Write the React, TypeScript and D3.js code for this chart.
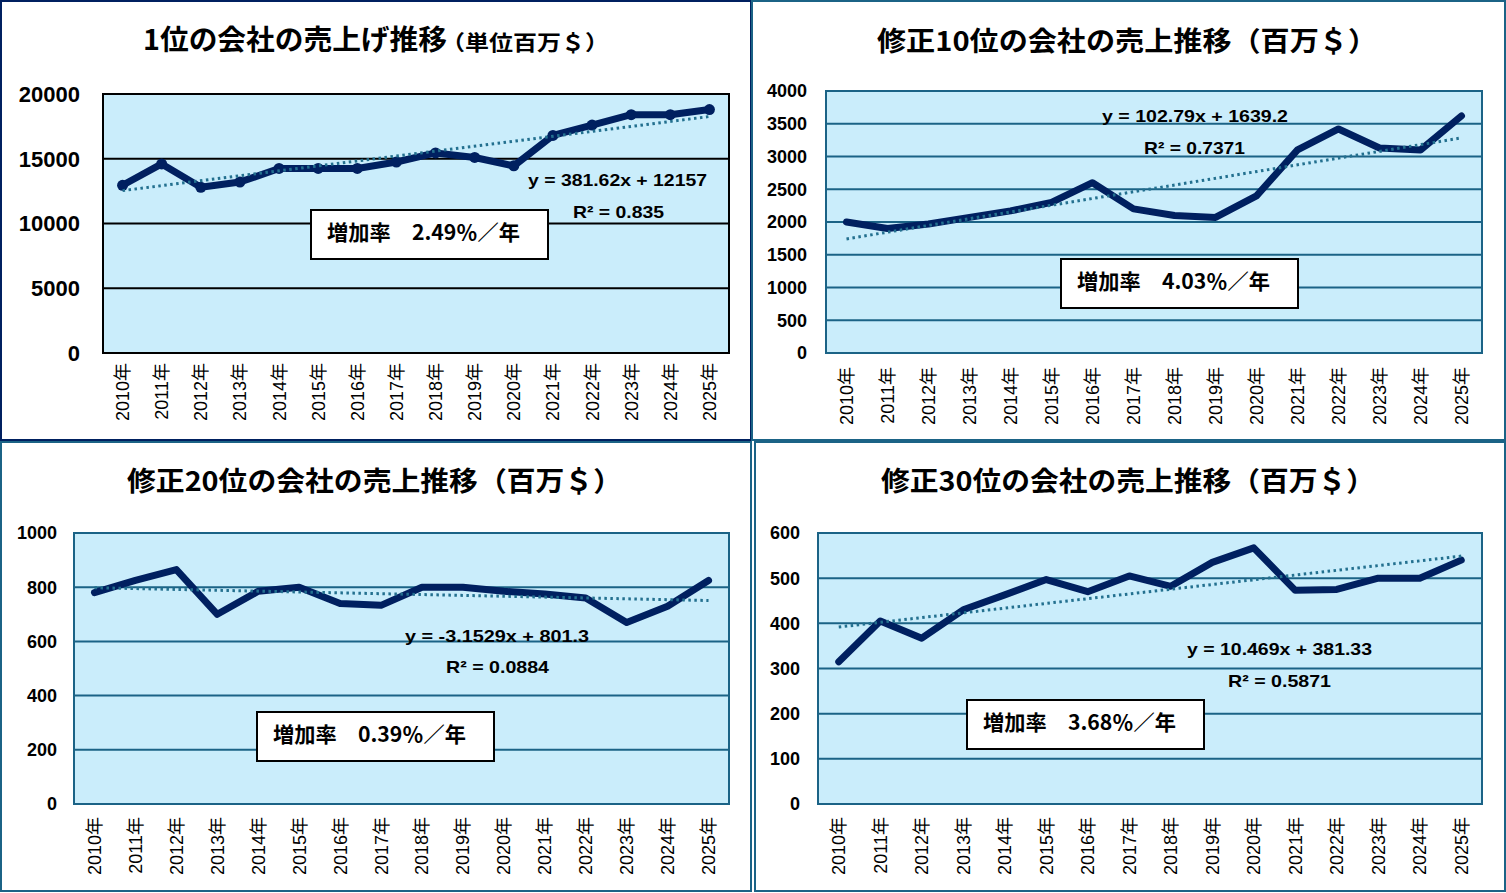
import { useEffect, useRef } from "react";
import * as d3 from "d3";

// ---- data ----
const years = [
  "2010年", "2011年", "2012年", "2013年", "2014年", "2015年", "2016年", "2017年",
  "2018年", "2019年", "2020年", "2021年", "2022年", "2023年", "2024年", "2025年",
];

const rank1Sales = [12950, 14600, 12800, 13200, 14250, 14250, 14250, 14750, 15450, 15100, 14450, 16800, 17600, 18400, 18400, 18800];
const rank10Sales = [2000, 1900, 1970, 2070, 2170, 2300, 2600, 2200, 2100, 2070, 2400, 3100, 3420, 3130, 3100, 3620];
const rank20Sales = [780, 825, 865, 700, 785, 800, 740, 733, 800, 800, 785, 775, 760, 670, 730, 825];
const rank30Sales = [315, 405, 367, 430, 463, 497, 470, 505, 482, 535, 567, 473, 475, 500, 500, 540];

const rank1Ticks = [0, 5000, 10000, 15000, 20000];
const rank10Ticks = [0, 500, 1000, 1500, 2000, 2500, 3000, 3500, 4000];
const rank20Ticks = [0, 200, 400, 600, 800, 1000];
const rank30Ticks = [0, 100, 200, 300, 400, 500, 600];

// linear trend: [slope, intercept], x = 1..16
const rank1Trend = [381.62, 12157];
const rank10Trend = [102.79, 1639.2];
const rank20Trend = [-3.1529, 801.3];
const rank30Trend = [10.469, 381.33];

const titles = [
  "1位の会社の売上げ推移",
  "修正10位の会社の売上推移（百万＄）",
  "修正20位の会社の売上推移（百万＄）",
  "修正30位の会社の売上推移（百万＄）",
];
const rank1Unit = "（単位百万＄）";
const equations = [
  "y = 381.62x + 12157",
  "y = 102.79x + 1639.2",
  "y = -3.1529x + 801.3",
  "y = 10.469x + 381.33",
];
const rSquared = ["R² = 0.835", "R² = 0.7371", "R² = 0.0884", "R² = 0.5871"];
const growthRates = [
  "増加率　2.49％／年",
  "増加率　4.03％／年",
  "増加率　0.39％／年",
  "増加率　3.68％／年",
];

const NUM_FONT = "'Liberation Sans', Arial, 'Noto Sans CJK JP', sans-serif";
const JP_FONT = "'Noto Sans CJK JP', 'Noto Sans', sans-serif";
const NAVY = "#002060";
const TEAL = "#1b6386";
const PLOT_FILL = "#caedfb";
const TREND = "#23708f";

interface PanelProps {
  values: number[];
  ticks: number[];
  trend: number[];
  title: string;
  unit?: string;
  equation: string;
  r2: string;
  rate: string;
  frame: number[]; // x0, y0, x1, y1
  frameColor: string;
  plot: number[]; // left, top, right, bottom
  gridColor: string;
  yFont: number;
  yGap: number;
  xGap: number;
  markers: boolean;
  titlePos: number[]; // x, baseline, size, length
  unitPos?: number[];
  eqPos: number[]; // x, baseline, length
  r2Pos: number[];
  boxPos: number[]; // x, y
}

function Panel(p: PanelProps) {
  const ref = useRef<SVGGElement>(null);

  useEffect(() => {
    if (!ref.current) return;
    const g = d3.select(ref.current);
    g.selectAll("*").remove();

    const [left, top, right, bottom] = p.plot;
    const x = d3.scaleBand<string>().domain(years).range([left, right]);
    const y = d3.scaleLinear().domain([0, d3.max(p.ticks)!]).range([bottom, top]);
    const cx = (i: number) => x(years[i])! + x.bandwidth() / 2;

    // panel frame
    const [fx0, fy0, fx1, fy1] = p.frame;
    g.append("rect")
      .attr("x", fx0).attr("y", fy0)
      .attr("width", fx1 - fx0).attr("height", fy1 - fy0)
      .attr("fill", "#fff")
      .attr("stroke", p.frameColor)
      .attr("stroke-width", 2);

    // plot area
    g.append("rect")
      .attr("x", left).attr("y", top)
      .attr("width", right - left).attr("height", bottom - top)
      .attr("fill", PLOT_FILL);

    g.selectAll(".grid")
      .data(p.ticks)
      .enter()
      .append("line")
      .attr("x1", left).attr("x2", right)
      .attr("y1", (d) => y(d)).attr("y2", (d) => y(d))
      .attr("stroke", p.gridColor)
      .attr("stroke-width", 2);

    g.append("rect")
      .attr("x", left).attr("y", top)
      .attr("width", right - left).attr("height", bottom - top)
      .attr("fill", "none")
      .attr("stroke", p.gridColor)
      .attr("stroke-width", 2);

    // y tick labels
    g.selectAll(".ylab")
      .data(p.ticks)
      .enter()
      .append("text")
      .attr("x", left - p.yGap)
      .attr("y", (d) => y(d))
      .attr("dy", "0.36em")
      .attr("text-anchor", "end")
      .attr("font-family", NUM_FONT)
      .attr("font-weight", "700")
      .attr("font-size", p.yFont)
      .attr("fill", "#000")
      .text((d) => String(d));

    // x tick labels (rotated)
    g.selectAll(".xlab")
      .data(years)
      .enter()
      .append("text")
      .attr("transform", (_, i) => `translate(${cx(i)},${bottom + p.xGap}) rotate(-90)`)
      .attr("dy", "0.36em")
      .attr("text-anchor", "end")
      .attr("font-family", NUM_FONT)
      .attr("font-size", 18)
      .attr("fill", "#000")
      .text((d) => d);

    // series line
    const line = d3
      .line<number>()
      .x((_, i) => cx(i))
      .y((d) => y(d));

    g.append("path")
      .datum(p.values)
      .attr("d", line)
      .attr("fill", "none")
      .attr("stroke", NAVY)
      .attr("stroke-width", 7)
      .attr("stroke-linejoin", "round")
      .attr("stroke-linecap", "round");

    if (p.markers) {
      g.selectAll(".dot")
        .data(p.values)
        .enter()
        .append("circle")
        .attr("cx", (_, i) => cx(i))
        .attr("cy", (d) => y(d))
        .attr("r", 5.5)
        .attr("fill", NAVY);
    }

    // trend line
    const [slope, intercept] = p.trend;
    const n = p.values.length;
    g.append("line")
      .attr("x1", cx(0)).attr("y1", y(slope * 1 + intercept))
      .attr("x2", cx(n - 1)).attr("y2", y(slope * n + intercept))
      .attr("stroke", TREND)
      .attr("stroke-width", 3)
      .attr("stroke-dasharray", "2.5 3.5");

    // equation and R²
    const label = (txt: string, pos: number[]) =>
      g.append("text")
        .attr("x", pos[0]).attr("y", pos[1])
        .attr("textLength", pos[2])
        .attr("lengthAdjust", "spacingAndGlyphs")
        .attr("font-family", NUM_FONT)
        .attr("font-weight", "700")
        .attr("font-size", 17)
        .attr("fill", "#000")
        .text(txt);
    label(p.equation, p.eqPos);
    label(p.r2, p.r2Pos);

    // growth-rate box
    const [bx, by] = p.boxPos;
    g.append("rect")
      .attr("x", bx).attr("y", by)
      .attr("width", 237).attr("height", 49)
      .attr("fill", "#fff")
      .attr("stroke", "#000")
      .attr("stroke-width", 2);
    g.append("text")
      .attr("x", bx + 16).attr("y", by + 21)
      .attr("dominant-baseline", "central")
      .attr("textLength", 193)
      .attr("lengthAdjust", "spacingAndGlyphs")
      .attr("font-family", JP_FONT)
      .attr("font-weight", "700")
      .attr("font-size", 21)
      .attr("fill", "#000")
      .text(p.rate);

    // title
    const [tx, ty, ts, tl] = p.titlePos;
    g.append("text")
      .attr("x", tx).attr("y", ty)
      .attr("textLength", tl)
      .attr("lengthAdjust", "spacingAndGlyphs")
      .attr("font-family", JP_FONT)
      .attr("font-weight", "700")
      .attr("font-size", ts)
      .attr("fill", "#000")
      .text(p.title);
    if (p.unit && p.unitPos) {
      const [ux, uy, us, ul] = p.unitPos;
      g.append("text")
        .attr("x", ux).attr("y", uy)
        .attr("textLength", ul)
        .attr("lengthAdjust", "spacingAndGlyphs")
        .attr("font-family", JP_FONT)
        .attr("font-weight", "700")
        .attr("font-size", us)
        .attr("fill", "#000")
        .text(p.unit);
    }
  }, [p]);

  return <g ref={ref} />;
}

export default function App() {
  return (
    <svg
      width={1506}
      height={893}
      style={{ position: "absolute", left: 0, top: 0, background: "#fff" }}
    >
      <Panel
        values={rank1Sales}
        ticks={rank1Ticks}
        trend={rank1Trend}
        title={titles[0]}
        unit={rank1Unit}
        equation={equations[0]}
        r2={rSquared[0]}
        rate={growthRates[0]}
        frame={[1, 1, 751, 440]}
        frameColor={NAVY}
        plot={[103, 94, 729, 353]}
        gridColor="#000"
        yFont={22}
        yGap={23}
        xGap={10}
        markers={true}
        titlePos={[143, 50, 28, 304]}
        unitPos={[441, 50, 21, 168]}
        eqPos={[528, 186, 179]}
        r2Pos={[573, 218, 91]}
        boxPos={[311, 210]}
      />
      <Panel
        values={rank10Sales}
        ticks={rank10Ticks}
        trend={rank10Trend}
        title={titles[1]}
        equation={equations[1]}
        r2={rSquared[1]}
        rate={growthRates[1]}
        frame={[752, 1, 1505, 440]}
        frameColor={TEAL}
        plot={[826, 91, 1482, 353]}
        gridColor={TEAL}
        yFont={18}
        yGap={19}
        xGap={14}
        markers={false}
        titlePos={[877, 51, 27, 500]}
        eqPos={[1102, 122, 186]}
        r2Pos={[1144, 154, 101]}
        boxPos={[1061, 259]}
      />
      <Panel
        values={rank20Sales}
        ticks={rank20Ticks}
        trend={rank20Trend}
        title={titles[2]}
        equation={equations[2]}
        r2={rSquared[2]}
        rate={growthRates[2]}
        frame={[1, 442, 751, 891]}
        frameColor={TEAL}
        plot={[74, 533, 729, 804]}
        gridColor={TEAL}
        yFont={18}
        yGap={17}
        xGap={13}
        markers={false}
        titlePos={[127, 491, 27, 495]}
        eqPos={[405, 642, 184]}
        r2Pos={[446, 673, 103]}
        boxPos={[257, 712]}
      />
      <Panel
        values={rank30Sales}
        ticks={rank30Ticks}
        trend={rank30Trend}
        title={titles[3]}
        equation={equations[3]}
        r2={rSquared[3]}
        rate={growthRates[3]}
        frame={[755, 442, 1505, 891]}
        frameColor={TEAL}
        plot={[818, 533, 1482, 804]}
        gridColor={TEAL}
        yFont={18}
        yGap={18}
        xGap={13}
        markers={false}
        titlePos={[881, 491, 27, 494]}
        eqPos={[1187, 655, 185]}
        r2Pos={[1228, 687, 103]}
        boxPos={[967, 700]}
      />
    </svg>
  );
}
